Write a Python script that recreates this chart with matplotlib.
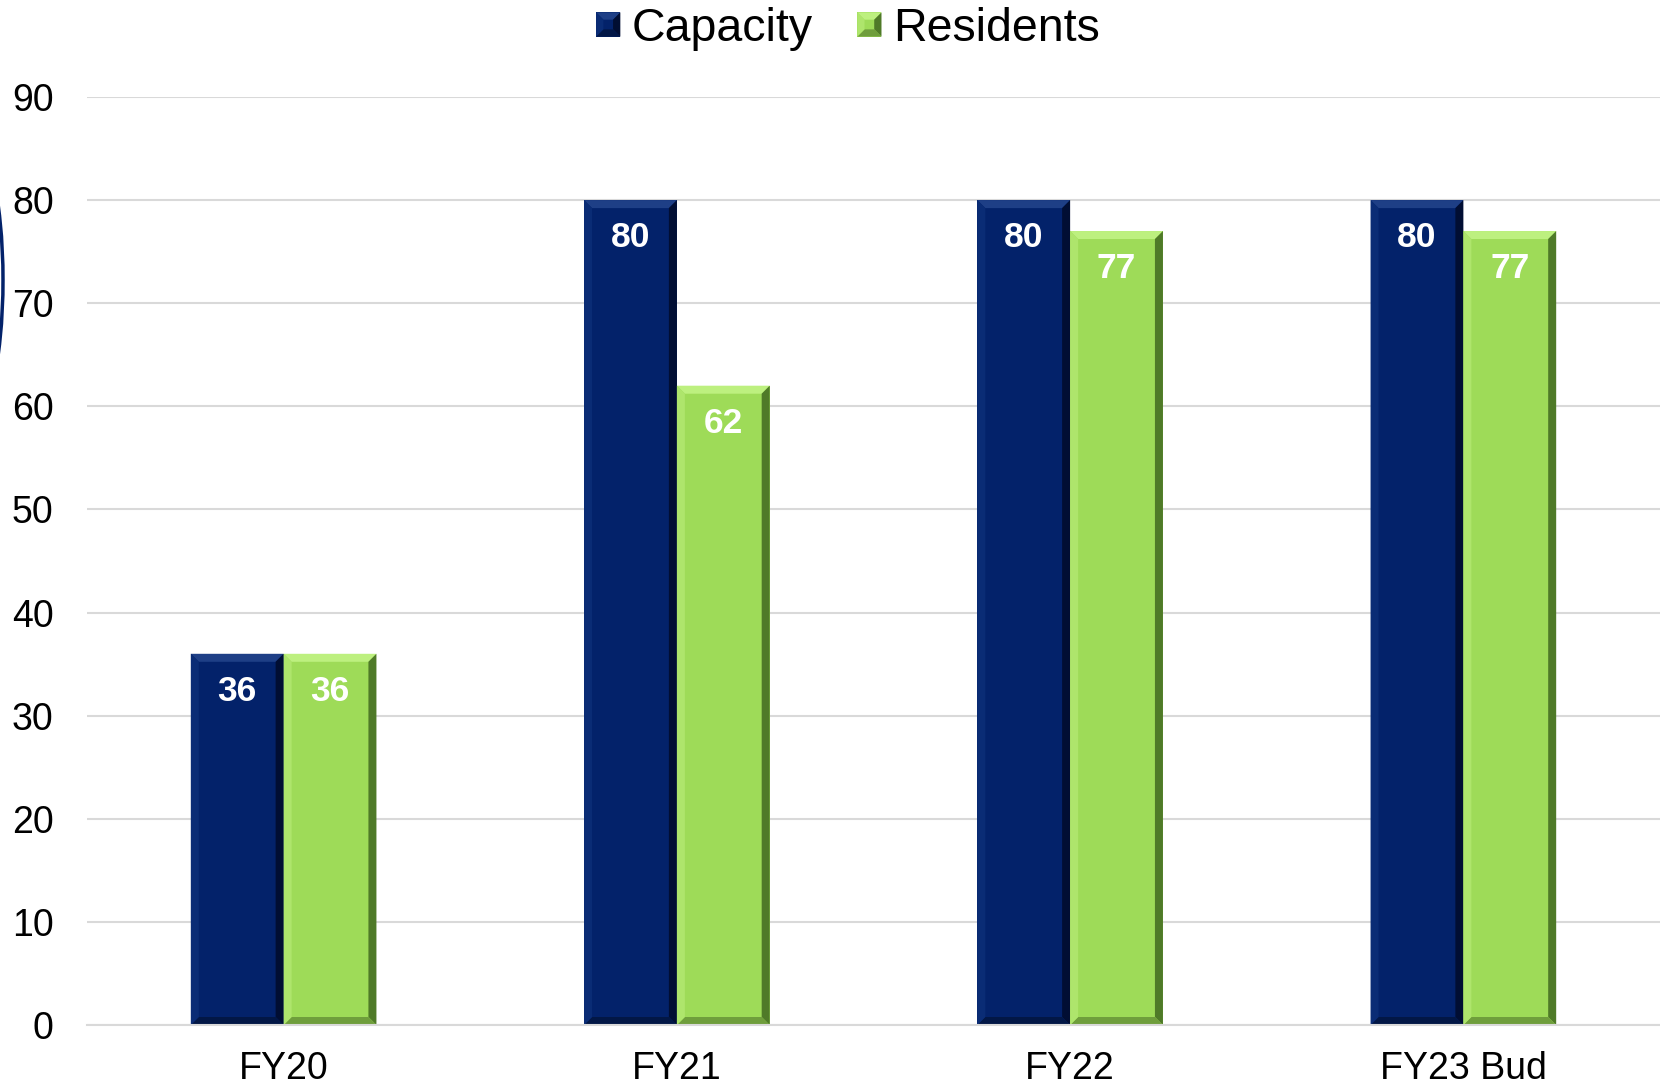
import matplotlib
matplotlib.use("Agg")
import matplotlib.pyplot as plt
from matplotlib.patches import Polygon, Rectangle, Ellipse
from matplotlib.legend_handler import HandlerBase
import numpy as np

plt.rcParams['font.family'] = ['Liberation Sans', 'DejaVu Sans']

categories = ["FY20", "FY21", "FY22", "FY23 Bud"]
capacity = [36, 80, 80, 80]
residents = [36, 62, 77, 77]
series_names = ["Capacity", "Residents"]
y_ticks = [0, 10, 20, 30, 40, 50, 60, 70, 80, 90]

NAVY = "#03226A"
GREEN = "#9EDB58"
# bevel shades: (top, right, bottom, left)
SHADES = {
    NAVY: ("#1E3F86", "#010E33", "#021746", "#0A2C75"),
    GREEN: ("#BDF07F", "#4F7A28", "#6F9E3C", "#AEE56C"),
}

W, H = 1660, 1088
fig = plt.figure(figsize=(W / 100, H / 100), dpi=100)
ax = fig.add_axes([87 / W, 1 - 1025 / H, 1 - 87 / W, (1025 - 97) / H])

x = np.arange(len(categories))
bw = 0.236
ax.set_xlim(-0.5, len(categories) - 0.5)
ax.set_ylim(0, 90)

# size of one pixel in data units, for the bevel edges
ax_w_px = (1 - 87 / W) * W
ax_h_px = (1025 - 97)
px_x = len(categories) / ax_w_px
px_y = 90 / ax_h_px
BEV = 8


def bevel_bar(x0, width, height, color):
    x1 = x0 + width
    y0, y1 = 0, height
    dx, dy = BEV * px_x, BEV * px_y
    ax.add_patch(Rectangle((x0, y0), width, height, facecolor=color,
                           edgecolor="none", zorder=3))
    top, right, bottom, left = SHADES[color]
    polys = [
        ([(x0, y1), (x1, y1), (x1 - dx, y1 - dy), (x0 + dx, y1 - dy)], top),
        ([(x1, y1), (x1, y0), (x1 - dx, y0 + dy), (x1 - dx, y1 - dy)], right),
        ([(x0, y0), (x1, y0), (x1 - dx, y0 + dy), (x0 + dx, y0 + dy)], bottom),
        ([(x0, y0), (x0, y1), (x0 + dx, y1 - dy), (x0 + dx, y0 + dy)], left),
    ]
    for pts, c in polys:
        ax.add_patch(Polygon(pts, closed=True, facecolor=c, edgecolor="none",
                             zorder=4))


def value_label(xc, v):
    ax.annotate(f"{v}", (xc, v), xytext=(0, -27), textcoords="offset points",
                ha="center", va="center", color="white", fontsize=25.5,
                fontweight="bold", zorder=6)


for xi, v in zip(x, capacity):
    bevel_bar(xi - bw, bw, v, NAVY)
    value_label(xi - bw / 2, v)
for xi, v in zip(x, residents):
    bevel_bar(xi, bw, v, GREEN)
    value_label(xi + bw / 2, v)

ax.set_yticks(y_ticks)
ax.set_xticks(x)
ax.set_xticklabels(categories)
ax.tick_params(axis="y", length=0, pad=24, labelsize=27)
ax.tick_params(axis="x", length=0, pad=19, labelsize=27)
ax.grid(axis="y", color="#D9D9D9", linewidth=1.5, zorder=0)
ax.set_axisbelow(True)
for s in ["top", "right", "left"]:
    ax.spines[s].set_visible(False)
ax.spines["bottom"].set_color("#D9D9D9")
ax.spines["bottom"].set_linewidth(1.5)
ax.spines["bottom"].set_zorder(5)


class BevelSquare(HandlerBase):
    def create_artists(self, legend, orig_handle, xdescent, ydescent,
                       width, height, fontsize, trans):
        key = NAVY if orig_handle.get_label() == series_names[0] else GREEN
        top, right, bottom, left = SHADES[key]
        s = min(width, height)
        x0 = -xdescent + (width - s) / 2
        y0 = -ydescent + (height - s) / 2
        x1, y1 = x0 + s, y0 + s
        b = s * 0.3
        arts = [Rectangle((x0, y0), s, s, facecolor=key, edgecolor="none",
                          transform=trans)]
        for pts, c in [
            ([(x0, y1), (x1, y1), (x1 - b, y1 - b), (x0 + b, y1 - b)], top),
            ([(x1, y1), (x1, y0), (x1 - b, y0 + b), (x1 - b, y1 - b)], right),
            ([(x0, y0), (x1, y0), (x1 - b, y0 + b), (x0 + b, y0 + b)], bottom),
            ([(x0, y0), (x0, y1), (x0 + b, y1 - b), (x0 + b, y0 + b)], left),
        ]:
            arts.append(Polygon(pts, closed=True, facecolor=c, edgecolor="none",
                                transform=trans))
        return arts


handles = [Rectangle((0, 0), 1, 1, facecolor=NAVY, label=series_names[0]),
           Rectangle((0, 0), 1, 1, facecolor=GREEN, label=series_names[1])]
fig.legend(handles=handles, labels=series_names, loc="center",
           bbox_to_anchor=(848 / W, 1 - 29 / H), ncol=2, frameon=False,
           fontsize=33.5, handlelength=0.52, handleheight=0.52,
           handletextpad=0.25, columnspacing=0.95, borderpad=0.1,
           handler_map={Rectangle: BevelSquare()})

# thin dark arc on the left margin
fig.add_artist(Ellipse((-33 / W, (H - 280) / H), 72 / W, 300 / H,
                       transform=fig.transFigure, facecolor="none",
                       edgecolor=NAVY, linewidth=2.5))

fig.savefig("out.png", dpi=100)
